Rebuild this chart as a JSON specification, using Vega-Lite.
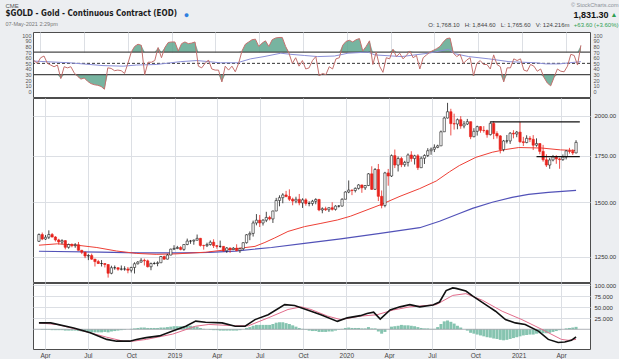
{
"$schema":"https://vega.github.io/schema/vega-lite/v6.json",
"background":"#eceef1",
"padding":{"left":4,"top":1,"right":0,"bottom":0},
"bounds":"flush",
"spacing":1,
"config":{
 "view":{"stroke":"#4d4d4d","strokeWidth":1,"fill":"#ffffff"},
 "font":"Liberation Sans",
 "axis":{"labelFont":"Liberation Sans","titleFont":"Liberation Sans","gridColor":"#dcdfe4","gridWidth":1,"ticks":false,"domain":false,"labelFlush":false},
 "text":{"font":"Liberation Sans"}
},
"datasets":{
"w":[
{"d":"2018-03-19","o":1317,"h":1352,"l":1314,"c":1347,"r":55,"g":0},
{"d":"2018-03-26","o":1347,"h":1356,"l":1322,"c":1327,"r":50,"g":-1},
{"d":"2018-04-02","o":1327,"h":1345,"l":1323,"c":1335,"r":60,"g":-1},
{"d":"2018-04-09","o":1335,"h":1366,"l":1327,"c":1347,"r":63,"g":-1},
{"d":"2018-04-16","o":1347,"h":1354,"l":1334,"c":1336,"r":50,"g":-2},
{"d":"2018-04-23","o":1336,"h":1340,"l":1316,"c":1323,"r":47,"g":-2},
{"d":"2018-04-30","o":1323,"h":1328,"l":1303,"c":1314,"r":44,"g":-2},
{"d":"2018-05-07","o":1314,"h":1326,"l":1304,"c":1320,"r":47,"g":-2},
{"d":"2018-05-14","o":1320,"h":1322,"l":1282,"c":1291,"r":23,"g":-3},
{"d":"2018-05-21","o":1291,"h":1307,"l":1285,"c":1303,"r":44,"g":-3},
{"d":"2018-05-28","o":1303,"h":1308,"l":1291,"c":1298,"r":42,"g":-3},
{"d":"2018-06-04","o":1298,"h":1309,"l":1289,"c":1302,"r":44,"g":-3},
{"d":"2018-06-11","o":1302,"h":1314,"l":1277,"c":1278,"r":33,"g":-4},
{"d":"2018-06-18","o":1278,"h":1280,"l":1262,"c":1270,"r":27,"g":-5},
{"d":"2018-06-25","o":1270,"h":1272,"l":1245,"c":1254,"r":22,"g":-6},
{"d":"2018-07-02","o":1254,"h":1262,"l":1237,"c":1256,"r":24,"g":-6},
{"d":"2018-07-09","o":1256,"h":1264,"l":1238,"c":1241,"r":18,"g":-7},
{"d":"2018-07-16","o":1241,"h":1242,"l":1211,"c":1231,"r":14,"g":-7},
{"d":"2018-07-23","o":1231,"h":1238,"l":1221,"c":1223,"r":12,"g":-7},
{"d":"2018-07-30","o":1223,"h":1237,"l":1211,"c":1223,"r":11,"g":-7},
{"d":"2018-08-06","o":1223,"h":1224,"l":1207,"c":1219,"r":9,"g":-6},
{"d":"2018-08-13","o":1219,"h":1220,"l":1167,"c":1184,"r":4,"g":-7},
{"d":"2018-08-20","o":1184,"h":1214,"l":1180,"c":1206,"r":42,"g":-5},
{"d":"2018-08-27","o":1206,"h":1215,"l":1198,"c":1206,"r":41,"g":-4},
{"d":"2018-09-03","o":1206,"h":1207,"l":1194,"c":1200,"r":37,"g":-3},
{"d":"2018-09-10","o":1200,"h":1215,"l":1195,"c":1201,"r":38,"g":-2},
{"d":"2018-09-17","o":1201,"h":1212,"l":1194,"c":1201,"r":37,"g":-1},
{"d":"2018-09-24","o":1201,"h":1209,"l":1184,"c":1196,"r":32,"g":0},
{"d":"2018-10-01","o":1196,"h":1210,"l":1187,"c":1207,"r":50,"g":1},
{"d":"2018-10-08","o":1207,"h":1228,"l":1183,"c":1222,"r":70,"g":2},
{"d":"2018-10-15","o":1222,"h":1233,"l":1219,"c":1229,"r":80,"g":3},
{"d":"2018-10-22","o":1229,"h":1245,"l":1226,"c":1236,"r":84,"g":4},
{"d":"2018-10-29","o":1236,"h":1243,"l":1215,"c":1234,"r":82,"g":4},
{"d":"2018-11-05","o":1234,"h":1239,"l":1207,"c":1210,"r":30,"g":3},
{"d":"2018-11-12","o":1210,"h":1227,"l":1196,"c":1223,"r":52,"g":3},
{"d":"2018-11-19","o":1223,"h":1230,"l":1219,"c":1223,"r":52,"g":3},
{"d":"2018-11-26","o":1223,"h":1232,"l":1212,"c":1226,"r":55,"g":3},
{"d":"2018-12-03","o":1226,"h":1254,"l":1226,"c":1252,"r":78,"g":4},
{"d":"2018-12-10","o":1252,"h":1256,"l":1238,"c":1241,"r":60,"g":4},
{"d":"2018-12-17","o":1241,"h":1263,"l":1240,"c":1258,"r":78,"g":5},
{"d":"2018-12-24","o":1258,"h":1285,"l":1257,"c":1283,"r":87,"g":6},
{"d":"2018-12-31","o":1283,"h":1300,"l":1279,"c":1286,"r":88,"g":7},
{"d":"2019-01-07","o":1286,"h":1297,"l":1283,"c":1290,"r":88,"g":7},
{"d":"2019-01-14","o":1290,"h":1296,"l":1278,"c":1282,"r":72,"g":7},
{"d":"2019-01-21","o":1282,"h":1304,"l":1276,"c":1303,"r":85,"g":7},
{"d":"2019-01-28","o":1303,"h":1329,"l":1300,"c":1318,"r":88,"g":8},
{"d":"2019-02-04","o":1318,"h":1323,"l":1306,"c":1318,"r":85,"g":8},
{"d":"2019-02-11","o":1318,"h":1325,"l":1302,"c":1322,"r":86,"g":7},
{"d":"2019-02-18","o":1322,"h":1347,"l":1320,"c":1330,"r":88,"g":6},
{"d":"2019-02-25","o":1330,"h":1332,"l":1294,"c":1299,"r":45,"g":3},
{"d":"2019-03-04","o":1299,"h":1302,"l":1281,"c":1298,"r":42,"g":1},
{"d":"2019-03-11","o":1298,"h":1311,"l":1292,"c":1303,"r":50,"g":0},
{"d":"2019-03-18","o":1303,"h":1321,"l":1298,"c":1313,"r":56,"g":-1},
{"d":"2019-03-25","o":1313,"h":1326,"l":1288,"c":1298,"r":40,"g":-2},
{"d":"2019-04-01","o":1298,"h":1301,"l":1285,"c":1295,"r":38,"g":-2},
{"d":"2019-04-08","o":1295,"h":1320,"l":1289,"c":1295,"r":38,"g":-3},
{"d":"2019-04-15","o":1295,"h":1296,"l":1272,"c":1276,"r":17,"g":-3},
{"d":"2019-04-22","o":1276,"h":1292,"l":1267,"c":1288,"r":45,"g":-3},
{"d":"2019-04-29","o":1288,"h":1290,"l":1267,"c":1281,"r":38,"g":-3},
{"d":"2019-05-06","o":1281,"h":1292,"l":1279,"c":1287,"r":45,"g":-3},
{"d":"2019-05-13","o":1287,"h":1304,"l":1274,"c":1277,"r":35,"g":-3},
{"d":"2019-05-20","o":1277,"h":1289,"l":1267,"c":1285,"r":50,"g":-2},
{"d":"2019-05-27","o":1285,"h":1312,"l":1279,"c":1311,"r":72,"g":0},
{"d":"2019-06-03","o":1311,"h":1349,"l":1307,"c":1346,"r":84,"g":3},
{"d":"2019-06-10","o":1346,"h":1361,"l":1322,"c":1352,"r":88,"g":5},
{"d":"2019-06-17","o":1352,"h":1411,"l":1338,"c":1400,"r":92,"g":8},
{"d":"2019-06-24","o":1400,"h":1442,"l":1389,"c":1413,"r":93,"g":10},
{"d":"2019-07-01","o":1413,"h":1438,"l":1381,"c":1400,"r":80,"g":10},
{"d":"2019-07-08","o":1400,"h":1418,"l":1388,"c":1413,"r":86,"g":10},
{"d":"2019-07-15","o":1413,"h":1453,"l":1404,"c":1426,"r":90,"g":10},
{"d":"2019-07-22","o":1426,"h":1434,"l":1412,"c":1419,"r":80,"g":10},
{"d":"2019-07-29","o":1419,"h":1458,"l":1400,"c":1457,"r":92,"g":12},
{"d":"2019-08-05","o":1457,"h":1522,"l":1456,"c":1509,"r":95,"g":15},
{"d":"2019-08-12","o":1509,"h":1535,"l":1480,"c":1523,"r":96,"g":16},
{"d":"2019-08-19","o":1523,"h":1546,"l":1495,"c":1537,"r":96,"g":16},
{"d":"2019-08-26","o":1537,"h":1558,"l":1525,"c":1529,"r":80,"g":14},
{"d":"2019-09-02","o":1529,"h":1566,"l":1506,"c":1515,"r":68,"g":12},
{"d":"2019-09-09","o":1515,"h":1523,"l":1485,"c":1506,"r":50,"g":9},
{"d":"2019-09-16","o":1506,"h":1528,"l":1495,"c":1515,"r":60,"g":6},
{"d":"2019-09-23","o":1515,"h":1542,"l":1485,"c":1497,"r":45,"g":3},
{"d":"2019-09-30","o":1497,"h":1520,"l":1472,"c":1512,"r":55,"g":1},
{"d":"2019-10-07","o":1512,"h":1520,"l":1483,"c":1494,"r":40,"g":-1},
{"d":"2019-10-14","o":1494,"h":1505,"l":1480,"c":1494,"r":42,"g":-3},
{"d":"2019-10-21","o":1494,"h":1512,"l":1483,"c":1505,"r":55,"g":-4},
{"d":"2019-10-28","o":1505,"h":1520,"l":1490,"c":1514,"r":62,"g":-4},
{"d":"2019-11-04","o":1514,"h":1517,"l":1456,"c":1462,"r":28,"g":-6},
{"d":"2019-11-11","o":1462,"h":1475,"l":1446,"c":1468,"r":32,"g":-6},
{"d":"2019-11-18","o":1468,"h":1478,"l":1457,"c":1463,"r":30,"g":-6},
{"d":"2019-11-25","o":1463,"h":1474,"l":1452,"c":1473,"r":44,"g":-5},
{"d":"2019-12-02","o":1473,"h":1500,"l":1459,"c":1465,"r":40,"g":-5},
{"d":"2019-12-09","o":1465,"h":1485,"l":1459,"c":1481,"r":58,"g":-3},
{"d":"2019-12-16","o":1481,"h":1486,"l":1474,"c":1481,"r":60,"g":-1},
{"d":"2019-12-23","o":1481,"h":1520,"l":1479,"c":1515,"r":82,"g":1},
{"d":"2019-12-30","o":1515,"h":1556,"l":1515,"c":1552,"r":89,"g":3},
{"d":"2020-01-06","o":1552,"h":1613,"l":1546,"c":1562,"r":91,"g":4},
{"d":"2020-01-13","o":1562,"h":1565,"l":1536,"c":1560,"r":88,"g":3},
{"d":"2020-01-20","o":1560,"h":1576,"l":1550,"c":1571,"r":92,"g":3},
{"d":"2020-01-27","o":1571,"h":1593,"l":1565,"c":1589,"r":94,"g":3},
{"d":"2020-02-03","o":1589,"h":1590,"l":1548,"c":1574,"r":72,"g":2},
{"d":"2020-02-10","o":1574,"h":1588,"l":1563,"c":1586,"r":80,"g":2},
{"d":"2020-02-17","o":1586,"h":1653,"l":1583,"c":1649,"r":90,"g":5},
{"d":"2020-02-24","o":1649,"h":1691,"l":1563,"c":1566,"r":48,"g":2},
{"d":"2020-03-02","o":1566,"h":1681,"l":1563,"c":1673,"r":70,"g":2},
{"d":"2020-03-09","o":1673,"h":1704,"l":1506,"c":1530,"r":45,"g":-5},
{"d":"2020-03-16","o":1530,"h":1560,"l":1470,"c":1484,"r":34,"g":-10},
{"d":"2020-03-23","o":1484,"h":1660,"l":1475,"c":1654,"r":60,"g":-6},
{"d":"2020-03-30","o":1654,"h":1676,"l":1585,"c":1637,"r":58,"g":0},
{"d":"2020-04-06","o":1637,"h":1759,"l":1632,"c":1752,"r":75,"g":6},
{"d":"2020-04-13","o":1752,"h":1788,"l":1681,"c":1698,"r":62,"g":7},
{"d":"2020-04-20","o":1698,"h":1747,"l":1662,"c":1735,"r":68,"g":8},
{"d":"2020-04-27","o":1735,"h":1745,"l":1686,"c":1700,"r":58,"g":10},
{"d":"2020-05-04","o":1700,"h":1722,"l":1688,"c":1713,"r":64,"g":9},
{"d":"2020-05-11","o":1713,"h":1765,"l":1690,"c":1756,"r":72,"g":9},
{"d":"2020-05-18","o":1756,"h":1778,"l":1717,"c":1735,"r":60,"g":8},
{"d":"2020-05-25","o":1735,"h":1757,"l":1701,"c":1751,"r":64,"g":7},
{"d":"2020-06-01","o":1751,"h":1761,"l":1670,"c":1683,"r":40,"g":5},
{"d":"2020-06-08","o":1683,"h":1747,"l":1683,"c":1737,"r":60,"g":3},
{"d":"2020-06-15","o":1737,"h":1760,"l":1704,"c":1753,"r":65,"g":2},
{"d":"2020-06-22","o":1753,"h":1796,"l":1744,"c":1781,"r":70,"g":2},
{"d":"2020-06-29","o":1781,"h":1800,"l":1757,"c":1790,"r":73,"g":1},
{"d":"2020-07-06","o":1790,"h":1819,"l":1773,"c":1801,"r":76,"g":1},
{"d":"2020-07-13","o":1801,"h":1817,"l":1796,"c":1810,"r":80,"g":5},
{"d":"2020-07-20","o":1810,"h":1905,"l":1810,"c":1897,"r":88,"g":12},
{"d":"2020-07-27","o":1897,"h":1995,"l":1897,"c":1986,"r":94,"g":18},
{"d":"2020-08-03","o":1986,"h":2089,"l":1983,"c":2028,"r":95,"g":20},
{"d":"2020-08-10","o":2028,"h":2048,"l":1874,"c":1949,"r":68,"g":17},
{"d":"2020-08-17","o":1949,"h":2015,"l":1911,"c":1947,"r":62,"g":13},
{"d":"2020-08-24","o":1947,"h":1983,"l":1913,"c":1975,"r":66,"g":8},
{"d":"2020-08-31","o":1975,"h":1998,"l":1916,"c":1934,"r":50,"g":4},
{"d":"2020-09-07","o":1934,"h":1966,"l":1919,"c":1947,"r":56,"g":0},
{"d":"2020-09-14","o":1947,"h":1980,"l":1940,"c":1962,"r":60,"g":-3},
{"d":"2020-09-21","o":1962,"h":1962,"l":1851,"c":1866,"r":28,"g":-8},
{"d":"2020-09-28","o":1866,"h":1920,"l":1863,"c":1900,"r":50,"g":-10},
{"d":"2020-10-05","o":1900,"h":1936,"l":1873,"c":1930,"r":55,"g":-12},
{"d":"2020-10-12","o":1930,"h":1933,"l":1891,"c":1906,"r":48,"g":-14},
{"d":"2020-10-19","o":1906,"h":1933,"l":1892,"c":1905,"r":48,"g":-16},
{"d":"2020-10-26","o":1905,"h":1911,"l":1860,"c":1879,"r":40,"g":-18},
{"d":"2020-11-02","o":1879,"h":1964,"l":1874,"c":1951,"r":65,"g":-19},
{"d":"2020-11-09","o":1951,"h":1966,"l":1851,"c":1886,"r":48,"g":-21},
{"d":"2020-11-16","o":1886,"h":1900,"l":1855,"c":1871,"r":44,"g":-22},
{"d":"2020-11-23","o":1871,"h":1876,"l":1765,"c":1788,"r":17,"g":-24},
{"d":"2020-11-30","o":1788,"h":1846,"l":1777,"c":1840,"r":42,"g":-25},
{"d":"2020-12-07","o":1840,"h":1877,"l":1825,"c":1840,"r":42,"g":-24},
{"d":"2020-12-14","o":1840,"h":1895,"l":1822,"c":1888,"r":58,"g":-22},
{"d":"2020-12-21","o":1888,"h":1907,"l":1856,"c":1883,"r":55,"g":-20},
{"d":"2020-12-28","o":1883,"h":1902,"l":1863,"c":1895,"r":58,"g":-18},
{"d":"2021-01-04","o":1895,"h":1960,"l":1829,"c":1835,"r":38,"g":-16},
{"d":"2021-01-11","o":1835,"h":1865,"l":1809,"c":1830,"r":36,"g":-14},
{"d":"2021-01-18","o":1830,"h":1875,"l":1826,"c":1856,"r":48,"g":-13},
{"d":"2021-01-25","o":1856,"h":1870,"l":1833,"c":1850,"r":45,"g":-12},
{"d":"2021-02-01","o":1850,"h":1876,"l":1785,"c":1814,"r":36,"g":-12},
{"d":"2021-02-08","o":1814,"h":1856,"l":1805,"c":1824,"r":40,"g":-10},
{"d":"2021-02-15","o":1824,"h":1826,"l":1760,"c":1777,"r":25,"g":-9},
{"d":"2021-02-22","o":1777,"h":1816,"l":1717,"c":1728,"r":15,"g":-9},
{"d":"2021-03-01","o":1728,"h":1760,"l":1687,"c":1698,"r":10,"g":-9},
{"d":"2021-03-08","o":1698,"h":1739,"l":1677,"c":1727,"r":25,"g":-8},
{"d":"2021-03-15","o":1727,"h":1756,"l":1719,"c":1745,"r":40,"g":-6},
{"d":"2021-03-22","o":1745,"h":1755,"l":1705,"c":1733,"r":36,"g":-4},
{"d":"2021-03-29","o":1733,"h":1740,"l":1677,"c":1729,"r":35,"g":-2},
{"d":"2021-04-05","o":1729,"h":1759,"l":1722,"c":1744,"r":45,"g":0},
{"d":"2021-04-12","o":1744,"h":1785,"l":1730,"c":1780,"r":66,"g":2},
{"d":"2021-04-19","o":1780,"h":1798,"l":1764,"c":1777,"r":64,"g":3},
{"d":"2021-04-26","o":1777,"h":1790,"l":1756,"c":1768,"r":47,"g":4},
{"d":"2021-05-03","o":1768.1,"h":1844.6,"l":1765.6,"c":1831.3,"r":82,"g":5.5}
],
"e50":[{"d":"2018-03-19","v":1300},{"d":"2018-04-27","v":1306},{"d":"2018-06-08","v":1300},{"d":"2018-07-20","v":1290},{"d":"2018-08-31","v":1275},{"d":"2018-10-12","v":1265},{"d":"2018-11-23","v":1261},{"d":"2019-01-04","v":1263},{"d":"2019-03-08","v":1270},{"d":"2019-05-03","v":1283},{"d":"2019-06-21","v":1295},{"d":"2019-07-12","v":1312},{"d":"2019-08-02","v":1332},{"d":"2019-08-30","v":1361},{"d":"2019-10-04","v":1383},{"d":"2019-11-08","v":1398},{"d":"2019-12-13","v":1414},{"d":"2020-01-10","v":1432},{"d":"2020-03-13","v":1487},{"d":"2020-04-24","v":1530},{"d":"2020-06-05","v":1570},{"d":"2020-07-10","v":1610},{"d":"2020-08-07","v":1660},{"d":"2020-08-28","v":1695},{"d":"2020-10-02","v":1742},{"d":"2020-11-06","v":1772},{"d":"2020-12-04","v":1788},{"d":"2021-01-01","v":1800},{"d":"2021-02-19","v":1797},{"d":"2021-03-31","v":1786},{"d":"2021-05-03","v":1782.3}],
"e200":[{"d":"2018-03-19","v":1274},{"d":"2018-07-27","v":1270},{"d":"2018-10-19","v":1267},{"d":"2019-01-18","v":1267},{"d":"2019-03-15","v":1269},{"d":"2019-05-10","v":1275},{"d":"2019-07-26","v":1290},{"d":"2019-10-04","v":1308},{"d":"2019-12-20","v":1328},{"d":"2020-03-13","v":1352},{"d":"2020-06-05","v":1378},{"d":"2020-07-17","v":1408},{"d":"2020-08-28","v":1445},{"d":"2020-09-25","v":1470},{"d":"2020-11-06","v":1500},{"d":"2020-12-18","v":1525},{"d":"2021-01-22","v":1540},{"d":"2021-03-05","v":1550},{"d":"2021-05-03","v":1560.58}],
"r28":[{"d":"2018-03-19","v":54},{"d":"2018-06-01","v":51},{"d":"2018-08-10","v":46},{"d":"2018-09-21","v":45},{"d":"2018-10-19","v":47},{"d":"2018-11-30","v":48},{"d":"2019-01-18","v":53},{"d":"2019-02-22","v":55},{"d":"2019-04-12","v":51},{"d":"2019-05-17","v":51},{"d":"2019-06-14","v":58},{"d":"2019-07-12","v":62},{"d":"2019-08-16","v":68},{"d":"2019-09-06","v":66},{"d":"2019-10-04","v":64},{"d":"2019-11-01","v":62},{"d":"2019-12-06","v":63},{"d":"2020-01-03","v":68},{"d":"2020-02-14","v":70},{"d":"2020-02-28","v":65},{"d":"2020-04-24","v":62},{"d":"2020-06-19","v":68},{"d":"2020-07-31","v":75},{"d":"2020-08-14","v":67},{"d":"2020-09-11","v":62},{"d":"2020-10-23","v":58},{"d":"2020-12-04","v":53},{"d":"2021-01-29","v":51},{"d":"2021-02-19","v":49},{"d":"2021-03-19","v":49},{"d":"2021-04-09","v":51},{"d":"2021-05-03","v":53}],
"m":[{"d":"2018-03-19","v":14.5},{"d":"2018-04-13","v":14.5},{"d":"2018-06-01","v":3},{"d":"2018-07-06","v":-8},{"d":"2018-08-10","v":-23},{"d":"2018-08-31","v":-27},{"d":"2018-09-28","v":-27},{"d":"2018-10-12","v":-23},{"d":"2018-11-02","v":-19},{"d":"2018-11-30","v":-15},{"d":"2018-12-28","v":-4},{"d":"2019-01-25","v":7},{"d":"2019-02-15","v":18.5},{"d":"2019-03-08","v":16},{"d":"2019-04-12","v":14.5},{"d":"2019-05-10","v":7},{"d":"2019-05-31","v":7},{"d":"2019-06-21","v":22},{"d":"2019-07-19","v":33},{"d":"2019-08-23","v":56},{"d":"2019-09-13","v":54},{"d":"2019-10-18","v":41},{"d":"2019-11-08","v":33},{"d":"2019-12-13","v":18},{"d":"2020-01-03","v":26},{"d":"2020-01-31","v":31},{"d":"2020-02-14","v":36},{"d":"2020-02-28","v":39},{"d":"2020-03-13","v":23},{"d":"2020-04-03","v":44},{"d":"2020-04-24","v":51},{"d":"2020-05-15","v":56},{"d":"2020-06-05","v":51},{"d":"2020-07-03","v":55},{"d":"2020-07-17","v":62},{"d":"2020-07-31","v":88},{"d":"2020-08-14","v":94},{"d":"2020-08-21","v":93},{"d":"2020-09-11","v":87},{"d":"2020-09-25","v":76},{"d":"2020-10-30","v":51},{"d":"2020-11-13","v":41},{"d":"2020-12-04","v":22},{"d":"2020-12-25","v":14.5},{"d":"2021-01-15","v":11},{"d":"2021-02-12","v":-4},{"d":"2021-03-05","v":-23},{"d":"2021-03-26","v":-30},{"d":"2021-04-09","v":-29},{"d":"2021-04-23","v":-25},{"d":"2021-05-03","v":-17.5}],
"s":[{"d":"2018-03-19","v":14.5},{"d":"2018-04-27","v":10.8},{"d":"2018-06-22","v":-4},{"d":"2018-08-10","v":-18},{"d":"2018-09-14","v":-27},{"d":"2018-10-05","v":-27},{"d":"2018-11-02","v":-23},{"d":"2018-12-28","v":-11},{"d":"2019-02-15","v":7},{"d":"2019-03-15","v":11},{"d":"2019-05-10","v":8},{"d":"2019-06-07","v":8},{"d":"2019-07-19","v":26},{"d":"2019-08-30","v":45},{"d":"2019-09-27","v":51},{"d":"2019-10-18","v":45},{"d":"2019-11-22","v":30},{"d":"2019-12-20","v":22},{"d":"2020-01-31","v":30},{"d":"2020-03-06","v":33},{"d":"2020-04-10","v":44},{"d":"2020-05-15","v":51},{"d":"2020-07-10","v":56},{"d":"2020-08-14","v":77},{"d":"2020-09-11","v":81},{"d":"2020-10-16","v":66},{"d":"2020-11-27","v":41},{"d":"2021-01-08","v":22},{"d":"2021-02-19","v":0},{"d":"2021-04-02","v":-23},{"d":"2021-04-16","v":-25},{"d":"2021-05-03","v":-23}],
"sr":[{"a":"2020-11-02","b":"2021-05-11","p":1961},{"a":"2021-02-08","b":"2021-05-11","p":1746}]
},
"resolve":{"scale":{"y":"independent"}},
"vconcat":[
{
 "width":557,"height":65,
 "resolve":{"scale":{"y":"independent"},"axis":{"x":"independent","y":"independent"}},
 "layer":[
  {"data":{"name":"w"},"mark":{"type":"area","color":"#5fa78f","opacity":0.85},
   "encoding":{"x":{"field":"d","type":"temporal","scale":{"type":"utc","domain":[{"year":2018,"month":3,"date":17,"utc":true},{"year":2021,"month":5,"date":22,"utc":true}]},"axis":{"orient":"top","grid":true,"labels":false,"tickCount":{"interval":"month","step":3},"title":"© StockCharts.com","titleX":585,"titleY":-30,"titleAlign":"right","titleBaseline":"top","titleFontSize":5.5,"titleFontWeight":"normal","titleColor":"#8b9097"}},
   "y":{"field":"r","type":"quantitative","scale":{"domain":[70,105.7],"range":[20.1,0],"clamp":true},"axis":null},
   "y2":{"datum":70}}},
  {"data":{"name":"w"},"mark":{"type":"area","color":"#5fa78f","opacity":0.85},
   "encoding":{"x":{"field":"d","type":"temporal","scale":{"type":"utc","domain":[{"year":2018,"month":3,"date":17,"utc":true},{"year":2021,"month":5,"date":22,"utc":true}]},"axis":null},
   "y":{"field":"r","type":"quantitative","scale":{"domain":[-9.8,30],"range":[65,42.6],"clamp":true},"axis":null},
   "y2":{"datum":30}}},
  {"data":{"values":[{"v":30},{"v":70}]},"mark":{"type":"rule","color":"#4a4a4a","strokeWidth":1.2},
   "encoding":{"y":{"field":"v","type":"quantitative","scale":{"domain":[-9.8,105.7]},"axis":{"orient":"left","values":[0,10,20,30,40,50,60,70,80,90,100],"labelFontSize":5.5,"labelColor":"#555555","labelPadding":2,"grid":false,"labelOverlap":false,"title":"CME","titleX":-28,"titleY":-30,"titleAngle":0,"titleAlign":"left","titleBaseline":"top","titleFontSize":6,"titleFontWeight":"normal","titleColor":"#555555"}}}},
  {"data":{"values":[{"v":50}]},"mark":{"type":"rule","color":"#333333","strokeWidth":1,"strokeDash":[3,2]},
   "encoding":{"y":{"field":"v","type":"quantitative","scale":{"domain":[-9.8,105.7]},"axis":{"orient":"right","values":[0,10,20,30,40,50,60,70,80,90,100],"labelFontSize":5.5,"labelColor":"#555555","labelPadding":3,"grid":false,"labelOverlap":false,"title":"+63.60 (+3.60%)","titleX":28,"titleY":-8,"titleAngle":0,"titleAlign":"right","titleBaseline":"middle","titleFontSize":6,"titleFontWeight":"normal","titleColor":"#2f9e52"}}}},
  {"data":{"name":"r28"},"mark":{"type":"line","color":"#8c90d8","strokeWidth":1},
   "encoding":{"x":{"field":"d","type":"temporal","scale":{"type":"utc","domain":[{"year":2018,"month":3,"date":17,"utc":true},{"year":2021,"month":5,"date":22,"utc":true}]},"axis":null},
   "y":{"field":"v","type":"quantitative","scale":{"domain":[-9.8,105.7]},"axis":null}}},
  {"data":{"name":"w"},"mark":{"type":"line","color":"#c4706e","strokeWidth":1},
   "encoding":{"x":{"field":"d","type":"temporal","scale":{"type":"utc","domain":[{"year":2018,"month":3,"date":17,"utc":true},{"year":2021,"month":5,"date":22,"utc":true}]},"axis":null},
   "y":{"field":"r","type":"quantitative","scale":{"domain":[-9.8,105.7]},"axis":null}}},
  {"mark":{"type":"text","align":"left","baseline":"middle","fontSize":5,"color":"#222222"},
   "encoding":{"x":{"datum":{"year":2018,"month":3,"date":25,"utc":true},"type":"temporal","scale":{"type":"utc","domain":[{"year":2018,"month":3,"date":17,"utc":true},{"year":2021,"month":5,"date":22,"utc":true}]},"axis":null},"y":{"datum":101.6,"type":"quantitative","scale":{"domain":[-9.8,105.7]},"axis":null},"text":{"value":"RSI(28)"}}},
  {"mark":{"type":"text","align":"left","baseline":"middle","fontSize":5,"color":"#6b70d6","dx":19},
   "encoding":{"x":{"datum":{"year":2018,"month":3,"date":25,"utc":true},"type":"temporal","scale":{"type":"utc","domain":[{"year":2018,"month":3,"date":17,"utc":true},{"year":2021,"month":5,"date":22,"utc":true}]},"axis":null},"y":{"datum":101.6,"type":"quantitative","scale":{"domain":[-9.8,105.7]},"axis":null},"text":{"value":"53.00"}}},
  {"mark":{"type":"text","align":"left","baseline":"middle","fontSize":5,"color":"#222222"},
   "encoding":{"x":{"datum":{"year":2018,"month":3,"date":25,"utc":true},"type":"temporal","scale":{"type":"utc","domain":[{"year":2018,"month":3,"date":17,"utc":true},{"year":2021,"month":5,"date":22,"utc":true}]},"axis":null},"y":{"datum":86.7,"type":"quantitative","scale":{"domain":[-9.8,105.7]},"axis":null},"text":{"value":"RSI(14)"}}},
  {"mark":{"type":"text","align":"left","baseline":"middle","fontSize":5,"color":"#e0605a","dx":19},
   "encoding":{"x":{"datum":{"year":2018,"month":3,"date":25,"utc":true},"type":"temporal","scale":{"type":"utc","domain":[{"year":2018,"month":3,"date":17,"utc":true},{"year":2021,"month":5,"date":22,"utc":true}]},"axis":null},"y":{"datum":86.7,"type":"quantitative","scale":{"domain":[-9.8,105.7]},"axis":null},"text":{"value":"82.00"}}},
  {"mark":{"type":"point","shape":"M-1,-0.8L1,-0.8L1,0.8L-1,0.8Z","filled":true,"opacity":1,"size":100,"color":"#2c3d9c"},
   "encoding":{"x":{"datum":{"year":2021,"month":6,"date":5,"utc":true},"type":"temporal","scale":{"type":"utc","domain":[{"year":2018,"month":3,"date":17,"utc":true},{"year":2021,"month":5,"date":22,"utc":true}]},"axis":null},"y":{"datum":53,"type":"quantitative","scale":{"domain":[-9.8,105.7]},"axis":null}}},
  {"mark":{"type":"text","align":"center","baseline":"middle","fontSize":5.5,"fontWeight":"bold","color":"#ffffff"},
   "encoding":{"x":{"datum":{"year":2021,"month":6,"date":5,"utc":true},"type":"temporal","scale":{"type":"utc","domain":[{"year":2018,"month":3,"date":17,"utc":true},{"year":2021,"month":5,"date":22,"utc":true}]},"axis":null},"y":{"datum":53,"type":"quantitative","scale":{"domain":[-9.8,105.7]},"axis":null},"text":{"value":"53"}}},
  {"mark":{"type":"point","shape":"M-1,-0.8L1,-0.8L1,0.8L-1,0.8Z","filled":true,"opacity":1,"size":100,"color":"#b8312f"},
   "encoding":{"x":{"datum":{"year":2021,"month":6,"date":5,"utc":true},"type":"temporal","scale":{"type":"utc","domain":[{"year":2018,"month":3,"date":17,"utc":true},{"year":2021,"month":5,"date":22,"utc":true}]},"axis":null},"y":{"datum":82,"type":"quantitative","scale":{"domain":[-9.8,105.7]},"axis":null}}},
  {"mark":{"type":"text","align":"center","baseline":"middle","fontSize":5.5,"fontWeight":"bold","color":"#ffffff"},
   "encoding":{"x":{"datum":{"year":2021,"month":6,"date":5,"utc":true},"type":"temporal","scale":{"type":"utc","domain":[{"year":2018,"month":3,"date":17,"utc":true},{"year":2021,"month":5,"date":22,"utc":true}]},"axis":null},"y":{"datum":82,"type":"quantitative","scale":{"domain":[-9.8,105.7]},"axis":null},"text":{"value":"82"}}}
 ]
},
{
 "width":557,"height":184,
 "resolve":{"axis":{"x":"independent","y":"independent"}},
 "layer":[
  {"data":{"name":"e200"},"mark":{"type":"line","color":"#5252b8","strokeWidth":1.2},
   "encoding":{"x":{"field":"d","type":"temporal","scale":{"type":"utc","domain":[{"year":2018,"month":3,"date":17,"utc":true},{"year":2021,"month":5,"date":22,"utc":true}]},"axis":{"orient":"top","grid":true,"labels":false,"tickCount":{"interval":"month","step":3},"title":"1,831.30","titleX":575,"titleY":-84,"titleAlign":"right","titleBaseline":"middle","titleFontSize":9,"titleFontWeight":"bold","titleColor":"#111111"}},
   "y":{"field":"v","type":"quantitative","scale":{"type":"log","domain":[1150,2123]},"axis":{"orient":"right","values":[1250,1500,1750,2000],"format":".2f","grid":true,"labelOverlap":false,"labelFontSize":6,"labelColor":"#333333","labelPadding":4,"title":"▲","titleX":20,"titleY":-84,"titleAngle":0,"titleAlign":"left","titleBaseline":"middle","titleFontSize":7,"titleColor":"#2f9e52"}}}},
  {"data":{"name":"e50"},"mark":{"type":"line","color":"#ee4036","strokeWidth":1},
   "encoding":{"x":{"field":"d","type":"temporal","scale":{"type":"utc","domain":[{"year":2018,"month":3,"date":17,"utc":true},{"year":2021,"month":5,"date":22,"utc":true}]},"axis":null},
   "y":{"field":"v","type":"quantitative","scale":{"type":"log","domain":[1150,2123]},"axis":{"orient":"left","labels":false,"grid":false,"title":"$GOLD - Gold - Continuous Contract (EOD)","titleX":-28,"titleY":-84.3,"titleAngle":0,"titleAlign":"left","titleBaseline":"middle","titleFont":"Liberation Sans Narrow, DejaVu Sans Condensed, Liberation Sans","titleFontSize":8,"titleFontWeight":"bold","titleColor":"#1b1b1b"}}}},
  {"data":{"name":"w"},"mark":{"type":"rule","strokeWidth":0.8},
   "encoding":{"x":{"field":"d","type":"temporal","scale":{"type":"utc","domain":[{"year":2018,"month":3,"date":17,"utc":true},{"year":2021,"month":5,"date":22,"utc":true}]},"axis":null},
   "y":{"field":"l","type":"quantitative","scale":{"type":"log","domain":[1150,2123]},"axis":null},"y2":{"field":"h"},
   "color":{"condition":{"test":"datum.c >= datum.o","value":"#1a1a1a"},"value":"#e8231d"}}},
  {"data":{"name":"w"},"mark":{"type":"bar","width":2.3,"strokeWidth":0.6},
   "encoding":{"x":{"field":"d","type":"temporal","scale":{"type":"utc","domain":[{"year":2018,"month":3,"date":17,"utc":true},{"year":2021,"month":5,"date":22,"utc":true}]},"axis":null},
   "y":{"field":"o","type":"quantitative","scale":{"type":"log","domain":[1150,2123]},"axis":null},"y2":{"field":"c"},
   "fill":{"condition":{"test":"datum.c >= datum.o","value":"#ffffff"},"value":"#e8231d"},
   "stroke":{"condition":{"test":"datum.c >= datum.o","value":"#1a1a1a"},"value":"#e8231d"}}},
  {"data":{"name":"sr"},"mark":{"type":"rule","color":"#111111","strokeWidth":1.3},
   "encoding":{"x":{"field":"a","type":"temporal","scale":{"type":"utc","domain":[{"year":2018,"month":3,"date":17,"utc":true},{"year":2021,"month":5,"date":22,"utc":true}]},"axis":null},"x2":{"field":"b"},
   "y":{"field":"p","type":"quantitative","scale":{"type":"log","domain":[1150,2123]},"axis":null}}},
  {"mark":{"type":"text","align":"left","baseline":"middle","fontSize":5.5,"color":"#222222"},
   "encoding":{"x":{"datum":{"year":2018,"month":3,"date":25,"utc":true},"type":"temporal","scale":{"type":"utc","domain":[{"year":2018,"month":3,"date":17,"utc":true},{"year":2021,"month":5,"date":22,"utc":true}]},"axis":null},"y":{"datum":2095,"type":"quantitative","scale":{"type":"log","domain":[1150,2123]},"axis":null},"text":{"value":"$GOLD (Weekly) 1831.30"}}},
  {"mark":{"type":"text","align":"left","baseline":"middle","fontSize":5,"color":"#222222"},
   "encoding":{"x":{"datum":{"year":2018,"month":3,"date":25,"utc":true},"type":"temporal","scale":{"type":"utc","domain":[{"year":2018,"month":3,"date":17,"utc":true},{"year":2021,"month":5,"date":22,"utc":true}]},"axis":null},"y":{"datum":2038,"type":"quantitative","scale":{"type":"log","domain":[1150,2123]},"axis":null},"text":{"value":"EMA(200)"}}},
  {"mark":{"type":"text","align":"left","baseline":"middle","fontSize":5,"color":"#6b6fd1","dx":20},
   "encoding":{"x":{"datum":{"year":2018,"month":3,"date":25,"utc":true},"type":"temporal","scale":{"type":"utc","domain":[{"year":2018,"month":3,"date":17,"utc":true},{"year":2021,"month":5,"date":22,"utc":true}]},"axis":null},"y":{"datum":2038,"type":"quantitative","scale":{"type":"log","domain":[1150,2123]},"axis":null},"text":{"value":"1560.58"}}},
  {"mark":{"type":"text","align":"left","baseline":"middle","fontSize":5,"color":"#222222"},
   "encoding":{"x":{"datum":{"year":2018,"month":3,"date":25,"utc":true},"type":"temporal","scale":{"type":"utc","domain":[{"year":2018,"month":3,"date":17,"utc":true},{"year":2021,"month":5,"date":22,"utc":true}]},"axis":null},"y":{"datum":1983,"type":"quantitative","scale":{"type":"log","domain":[1150,2123]},"axis":null},"text":{"value":"EMA(50)"}}},
  {"mark":{"type":"text","align":"left","baseline":"middle","fontSize":5,"color":"#e04040","dx":20},
   "encoding":{"x":{"datum":{"year":2018,"month":3,"date":25,"utc":true},"type":"temporal","scale":{"type":"utc","domain":[{"year":2018,"month":3,"date":17,"utc":true},{"year":2021,"month":5,"date":22,"utc":true}]},"axis":null},"y":{"datum":1983,"type":"quantitative","scale":{"type":"log","domain":[1150,2123]},"axis":null},"text":{"value":"1782.30"}}},
  {"mark":{"type":"point","shape":"M-1.4,-0.43L1.4,-0.43L1.4,0.43L-1.4,0.43Z","filled":true,"opacity":1,"size":400,"color":"#1e2a8a"},
   "encoding":{"x":{"datum":{"year":2021,"month":6,"date":26,"utc":true},"type":"temporal","scale":{"type":"utc","domain":[{"year":2018,"month":3,"date":17,"utc":true},{"year":2021,"month":5,"date":22,"utc":true}]},"axis":null},"y":{"datum":1560.58,"type":"quantitative","scale":{"type":"log","domain":[1150,2123]},"axis":null}}},
  {"mark":{"type":"text","align":"center","baseline":"middle","fontSize":6.5,"fontWeight":"bold","color":"#ffffff"},
   "encoding":{"x":{"datum":{"year":2021,"month":6,"date":26,"utc":true},"type":"temporal","scale":{"type":"utc","domain":[{"year":2018,"month":3,"date":17,"utc":true},{"year":2021,"month":5,"date":22,"utc":true}]},"axis":null},"y":{"datum":1560.58,"type":"quantitative","scale":{"type":"log","domain":[1150,2123]},"axis":null},"text":{"value":"1560.58"}}},
  {"mark":{"type":"point","shape":"M-1.4,-0.43L1.4,-0.43L1.4,0.43L-1.4,0.43Z","filled":true,"opacity":1,"size":400,"color":"#e3262b"},
   "encoding":{"x":{"datum":{"year":2021,"month":6,"date":26,"utc":true},"type":"temporal","scale":{"type":"utc","domain":[{"year":2018,"month":3,"date":17,"utc":true},{"year":2021,"month":5,"date":22,"utc":true}]},"axis":null},"y":{"datum":1782.3,"type":"quantitative","scale":{"type":"log","domain":[1150,2123]},"axis":null}}},
  {"mark":{"type":"text","align":"center","baseline":"middle","fontSize":6.5,"fontWeight":"bold","color":"#ffffff"},
   "encoding":{"x":{"datum":{"year":2021,"month":6,"date":26,"utc":true},"type":"temporal","scale":{"type":"utc","domain":[{"year":2018,"month":3,"date":17,"utc":true},{"year":2021,"month":5,"date":22,"utc":true}]},"axis":null},"y":{"datum":1782.3,"type":"quantitative","scale":{"type":"log","domain":[1150,2123]},"axis":null},"text":{"value":"1782.30"}}},
  {"mark":{"type":"point","shape":"M-1.4,-0.43L1.4,-0.43L1.4,0.43L-1.4,0.43Z","filled":true,"opacity":1,"size":400,"color":"#111111"},
   "encoding":{"x":{"datum":{"year":2021,"month":6,"date":26,"utc":true},"type":"temporal","scale":{"type":"utc","domain":[{"year":2018,"month":3,"date":17,"utc":true},{"year":2021,"month":5,"date":22,"utc":true}]},"axis":null},"y":{"datum":1831.3,"type":"quantitative","scale":{"type":"log","domain":[1150,2123]},"axis":null}}},
  {"mark":{"type":"text","align":"center","baseline":"middle","fontSize":6.5,"fontWeight":"bold","color":"#ffffff"},
   "encoding":{"x":{"datum":{"year":2021,"month":6,"date":26,"utc":true},"type":"temporal","scale":{"type":"utc","domain":[{"year":2018,"month":3,"date":17,"utc":true},{"year":2021,"month":5,"date":22,"utc":true}]},"axis":null},"y":{"datum":1831.3,"type":"quantitative","scale":{"type":"log","domain":[1150,2123]},"axis":null},"text":{"value":"1831.30"}}}
 ]
},
{
 "width":557,"height":66,
 "resolve":{"axis":{"x":"independent","y":"independent"}},
 "layer":[
  {"data":{"name":"w"},"mark":{"type":"bar","color":"#86c4b0","width":3},
   "encoding":{"x":{"field":"d","type":"temporal","scale":{"type":"utc","domain":[{"year":2018,"month":3,"date":17,"utc":true},{"year":2021,"month":5,"date":22,"utc":true}]},"axis":{"orient":"bottom","grid":true,"tickCount":{"interval":"month","step":3},"labelExpr":"utcmonth(datum.value) === 0 ? utcFormat(datum.value, '%Y') : utcFormat(datum.value, '%b')","labelFontSize":6.5,"labelColor":"#444444","labelPadding":3,"title":"●","titleX":153,"titleY":-335,"titleAlign":"center","titleBaseline":"middle","titleFontSize":9,"titleColor":"#2f7ee0"}},
   "y":{"field":"g","type":"quantitative","scale":{"domain":[-44.8,105.2]},"axis":{"orient":"right","values":[25,50,75,100],"format":".3f","grid":true,"labelOverlap":false,"labelFontSize":6,"labelColor":"#333333","labelPadding":4,"title":"O: 1,768.10\u00a0\u00a0 H: 1,844.60\u00a0\u00a0 L: 1,765.60\u00a0\u00a0 V: 124.216m","titleX":-21,"titleY":-259,"titleAngle":0,"titleAlign":"right","titleBaseline":"middle","titleFontSize":6,"titleFontWeight":"normal","titleColor":"#444444"}},
   "y2":{"datum":0}}},
  {"data":{"values":[{"v":0}]},"mark":{"type":"rule","color":"#9aa0a6","strokeWidth":0.8},
   "encoding":{"y":{"field":"v","type":"quantitative","scale":{"domain":[-44.8,105.2]},"axis":null}}},
  {"data":{"name":"s"},"mark":{"type":"line","color":"#e26d8c","strokeWidth":1},
   "encoding":{"x":{"field":"d","type":"temporal","scale":{"type":"utc","domain":[{"year":2018,"month":3,"date":17,"utc":true},{"year":2021,"month":5,"date":22,"utc":true}]},"axis":null},
   "y":{"field":"v","type":"quantitative","scale":{"domain":[-44.8,105.2]},"axis":{"orient":"left","labels":false,"grid":false,"title":"07-May-2021 2:29pm","titleX":-28,"titleY":-259.3,"titleAngle":0,"titleAlign":"left","titleBaseline":"middle","titleFontSize":5.5,"titleFontWeight":"normal","titleColor":"#777777"}}}},
  {"data":{"name":"m"},"mark":{"type":"line","color":"#111111","strokeWidth":1.6},
   "encoding":{"x":{"field":"d","type":"temporal","scale":{"type":"utc","domain":[{"year":2018,"month":3,"date":17,"utc":true},{"year":2021,"month":5,"date":22,"utc":true}]},"axis":null},
   "y":{"field":"v","type":"quantitative","scale":{"domain":[-44.8,105.2]},"axis":null}}},
  {"mark":{"type":"text","align":"left","baseline":"middle","fontSize":5,"color":"#222222"},
   "encoding":{"x":{"datum":{"year":2018,"month":3,"date":25,"utc":true},"type":"temporal","scale":{"type":"utc","domain":[{"year":2018,"month":3,"date":17,"utc":true},{"year":2021,"month":5,"date":22,"utc":true}]},"axis":null},"y":{"datum":93.2,"type":"quantitative","scale":{"domain":[-44.8,105.2]},"axis":null},"text":{"value":"MACD(12,26,9)"}}},
  {"mark":{"type":"text","align":"left","baseline":"middle","fontSize":5,"color":"#666666","dx":38},
   "encoding":{"x":{"datum":{"year":2018,"month":3,"date":25,"utc":true},"type":"temporal","scale":{"type":"utc","domain":[{"year":2018,"month":3,"date":17,"utc":true},{"year":2021,"month":5,"date":22,"utc":true}]},"axis":null},"y":{"datum":93.2,"type":"quantitative","scale":{"domain":[-44.8,105.2]},"axis":null},"text":{"value":"-17.512,"}}},
  {"mark":{"type":"text","align":"left","baseline":"middle","fontSize":5,"color":"#e05070","dx":58},
   "encoding":{"x":{"datum":{"year":2018,"month":3,"date":25,"utc":true},"type":"temporal","scale":{"type":"utc","domain":[{"year":2018,"month":3,"date":17,"utc":true},{"year":2021,"month":5,"date":22,"utc":true}]},"axis":null},"y":{"datum":93.2,"type":"quantitative","scale":{"domain":[-44.8,105.2]},"axis":null},"text":{"value":"-23.008,"}}},
  {"mark":{"type":"text","align":"left","baseline":"middle","fontSize":5,"color":"#6a9a88","dx":78},
   "encoding":{"x":{"datum":{"year":2018,"month":3,"date":25,"utc":true},"type":"temporal","scale":{"type":"utc","domain":[{"year":2018,"month":3,"date":17,"utc":true},{"year":2021,"month":5,"date":22,"utc":true}]},"axis":null},"y":{"datum":93.2,"type":"quantitative","scale":{"domain":[-44.8,105.2]},"axis":null},"text":{"value":"5.497"}}},
  {"mark":{"type":"point","shape":"M-2.1,-0.8L2.1,-0.8L2.1,0.8L-2.1,0.8Z","filled":true,"opacity":1,"size":100,"color":"#d8344f"},
   "encoding":{"x":{"datum":{"year":2021,"month":6,"date":17,"utc":true},"type":"temporal","scale":{"type":"utc","domain":[{"year":2018,"month":3,"date":17,"utc":true},{"year":2021,"month":5,"date":22,"utc":true}]},"axis":null},"y":{"datum":-23.008,"type":"quantitative","scale":{"domain":[-44.8,105.2]},"axis":null}}},
  {"mark":{"type":"point","shape":"M-2.1,-0.8L2.1,-0.8L2.1,0.8L-2.1,0.8Z","filled":true,"opacity":1,"size":100,"color":"#111111"},
   "encoding":{"x":{"datum":{"year":2021,"month":6,"date":17,"utc":true},"type":"temporal","scale":{"type":"utc","domain":[{"year":2018,"month":3,"date":17,"utc":true},{"year":2021,"month":5,"date":22,"utc":true}]},"axis":null},"y":{"datum":-17.512,"type":"quantitative","scale":{"domain":[-44.8,105.2]},"axis":null}}},
  {"mark":{"type":"text","align":"center","baseline":"middle","fontSize":5.5,"fontWeight":"bold","color":"#ffffff"},
   "encoding":{"x":{"datum":{"year":2021,"month":6,"date":17,"utc":true},"type":"temporal","scale":{"type":"utc","domain":[{"year":2018,"month":3,"date":17,"utc":true},{"year":2021,"month":5,"date":22,"utc":true}]},"axis":null},"y":{"datum":-17.512,"type":"quantitative","scale":{"domain":[-44.8,105.2]},"axis":null},"text":{"value":"-17.512"}}},
  {"mark":{"type":"point","shape":"M-1.4,-0.8L1.4,-0.8L1.4,0.8L-1.4,0.8Z","filled":true,"opacity":1,"size":100,"color":"#52a583"},
   "encoding":{"x":{"datum":{"year":2021,"month":6,"date":10,"utc":true},"type":"temporal","scale":{"type":"utc","domain":[{"year":2018,"month":3,"date":17,"utc":true},{"year":2021,"month":5,"date":22,"utc":true}]},"axis":null},"y":{"datum":5.497,"type":"quantitative","scale":{"domain":[-44.8,105.2]},"axis":null}}},
  {"mark":{"type":"text","align":"center","baseline":"middle","fontSize":5.5,"fontWeight":"bold","color":"#ffffff"},
   "encoding":{"x":{"datum":{"year":2021,"month":6,"date":10,"utc":true},"type":"temporal","scale":{"type":"utc","domain":[{"year":2018,"month":3,"date":17,"utc":true},{"year":2021,"month":5,"date":22,"utc":true}]},"axis":null},"y":{"datum":5.497,"type":"quantitative","scale":{"domain":[-44.8,105.2]},"axis":null},"text":{"value":"5.497"}}}
 ]
}
]
}
